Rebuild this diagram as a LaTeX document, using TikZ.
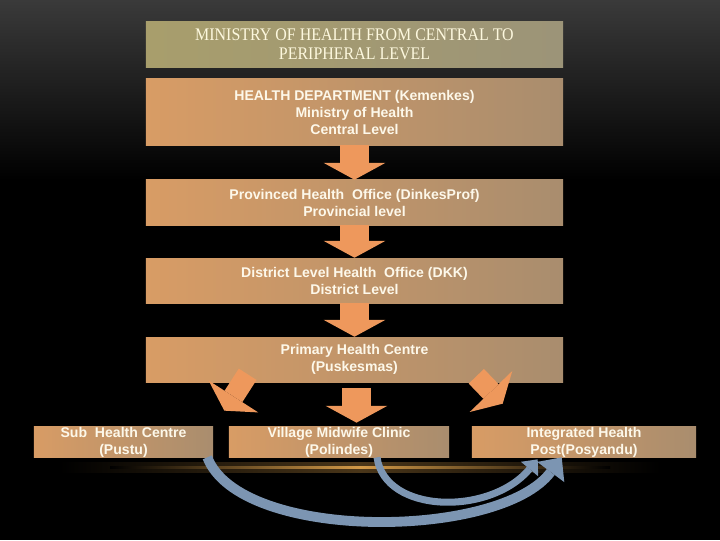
\documentclass[tikz,border=0pt]{standalone}
\usepackage{fontspec}
\setmainfont{Liberation Sans}
\newfontfamily\titlefont[FakeStretch=0.9]{Liberation Serif}
\usetikzlibrary{arrows.meta,calc}
\definecolor{bgtop}{HTML}{3A3A3A}
\definecolor{titleL}{HTML}{A89E6C}
\definecolor{titleR}{HTML}{9C9478}
\definecolor{boxL}{HTML}{D89C65}
\definecolor{boxR}{HTML}{A98D6E}
\definecolor{arrowfill}{HTML}{EE985C}
\definecolor{curvefill}{HTML}{7C95B2}
\definecolor{glow}{HTML}{D39A48}
\definecolor{txt}{HTML}{FDF8EA}
\tikzset{
  level/.style={rectangle, inner sep=0pt, left color=boxL, right color=boxR,
    text=txt, align=center, font=\fontsize{10}{12.1}\selectfont\bfseries,
    minimum width=10.425cm, minimum height=1.125cm},
  leaf/.style={level, minimum height=0.7cm},
  downarrow/.style={draw=arrowfill, line width=20pt,
    -{Triangle[width=44pt, length=12pt, line width=0pt, fill=arrowfill]}},
  sidearrow/.style={draw=arrowfill, line width=15pt,
    -{Triangle[width=42pt, length=12pt, line width=0pt, fill=arrowfill]}},
  curvearrow/.style={draw=curvefill, line width=7pt,
    -{Triangle[width=24pt, length=13pt, line width=0pt, fill=curvefill]}}
}
\begin{document}
\begin{tikzpicture}[x=0.025cm, y=-0.025cm]
% background
\fill[black] (0,0) rectangle (720,540);
\shade[top color=bgtop, bottom color=black] (0,0) rectangle (720,180);
\useasboundingbox (0,0) rectangle (720,540);
% glow under the bottom row
\shade[left color=black, right color=black, middle color=glow!35!black] (60,462) rectangle (660,472);
\shade[left color=black, right color=black, middle color=glow] (110,466) rectangle (610,468);

\node[level, left color=titleL, right color=titleR, minimum height=1.125cm,
  font=\titlefont\fontsize{12.6}{13.5}\selectfont, text=txt!95!yellow] (title) at (354.5,44.5)
  {MINISTRY OF HEALTH FROM CENTRAL TO\\PERIPHERAL LEVEL};
\node[level, minimum height=1.65cm] (dept) at (354.5,112)
  {HEALTH DEPARTMENT (Kemenkes)\\Ministry of Health\\Central Level};
\node[level] (prov) at (354.5,202.5)
  {Provinced Health\ \ Office (DinkesProf)\\Provincial level};
\node[level] (dist) at (354.5,280.5)
  {District Level Health\ \ Office (DKK)\\District Level};
\node[level] (phc) at (354.5,359.5)
  {Primary Health Centre\\(Puskesmas)};
\node[leaf, minimum width=4.475cm] (sub) at (123.5,442)
  {Sub\ \ Health Centre\\(Pustu)};
\node[leaf, minimum width=5.5cm] (vmc) at (339,442)
  {Village Midwife Clinic\\(Polindes)};
\node[leaf, minimum width=5.6cm] (post) at (584,442)
  {Integrated Health\\Post(Posyandu)};

% down the levels
\draw[downarrow] (dept.south) -- (prov.north);
\draw[downarrow] (prov.south) -- (dist.north);
\draw[downarrow] (dist.south) -- (phc.north);
\draw[downarrow] ($(phc.south)+(2,6)$) -- ($(phc.south |- vmc.north)+(2,-4)$);
\draw[sidearrow] ($(phc.south west)+(102,-8)$) -- ($(sub.north east)+(11,-16)$);
\draw[sidearrow] ($(phc.south east)+(-87,-6)$) -- ($(post.north west)+(31,-23)$);

% referrals to the posyandu
\draw[curvearrow] ($(sub.south east)+(-6,0)$) .. controls (240,542) and (500,540) .. ($(post.south west)+(90,0)$);
\draw[curvearrow, line width=5pt, -{Triangle[width=16pt, length=9pt, line width=0pt, fill=curvefill]}]
  ($(vmc.south)+(38,0)$) .. controls (385,514) and (490,516) .. ($(post.south west)+(66,2)$);
\end{tikzpicture}
\end{document}
